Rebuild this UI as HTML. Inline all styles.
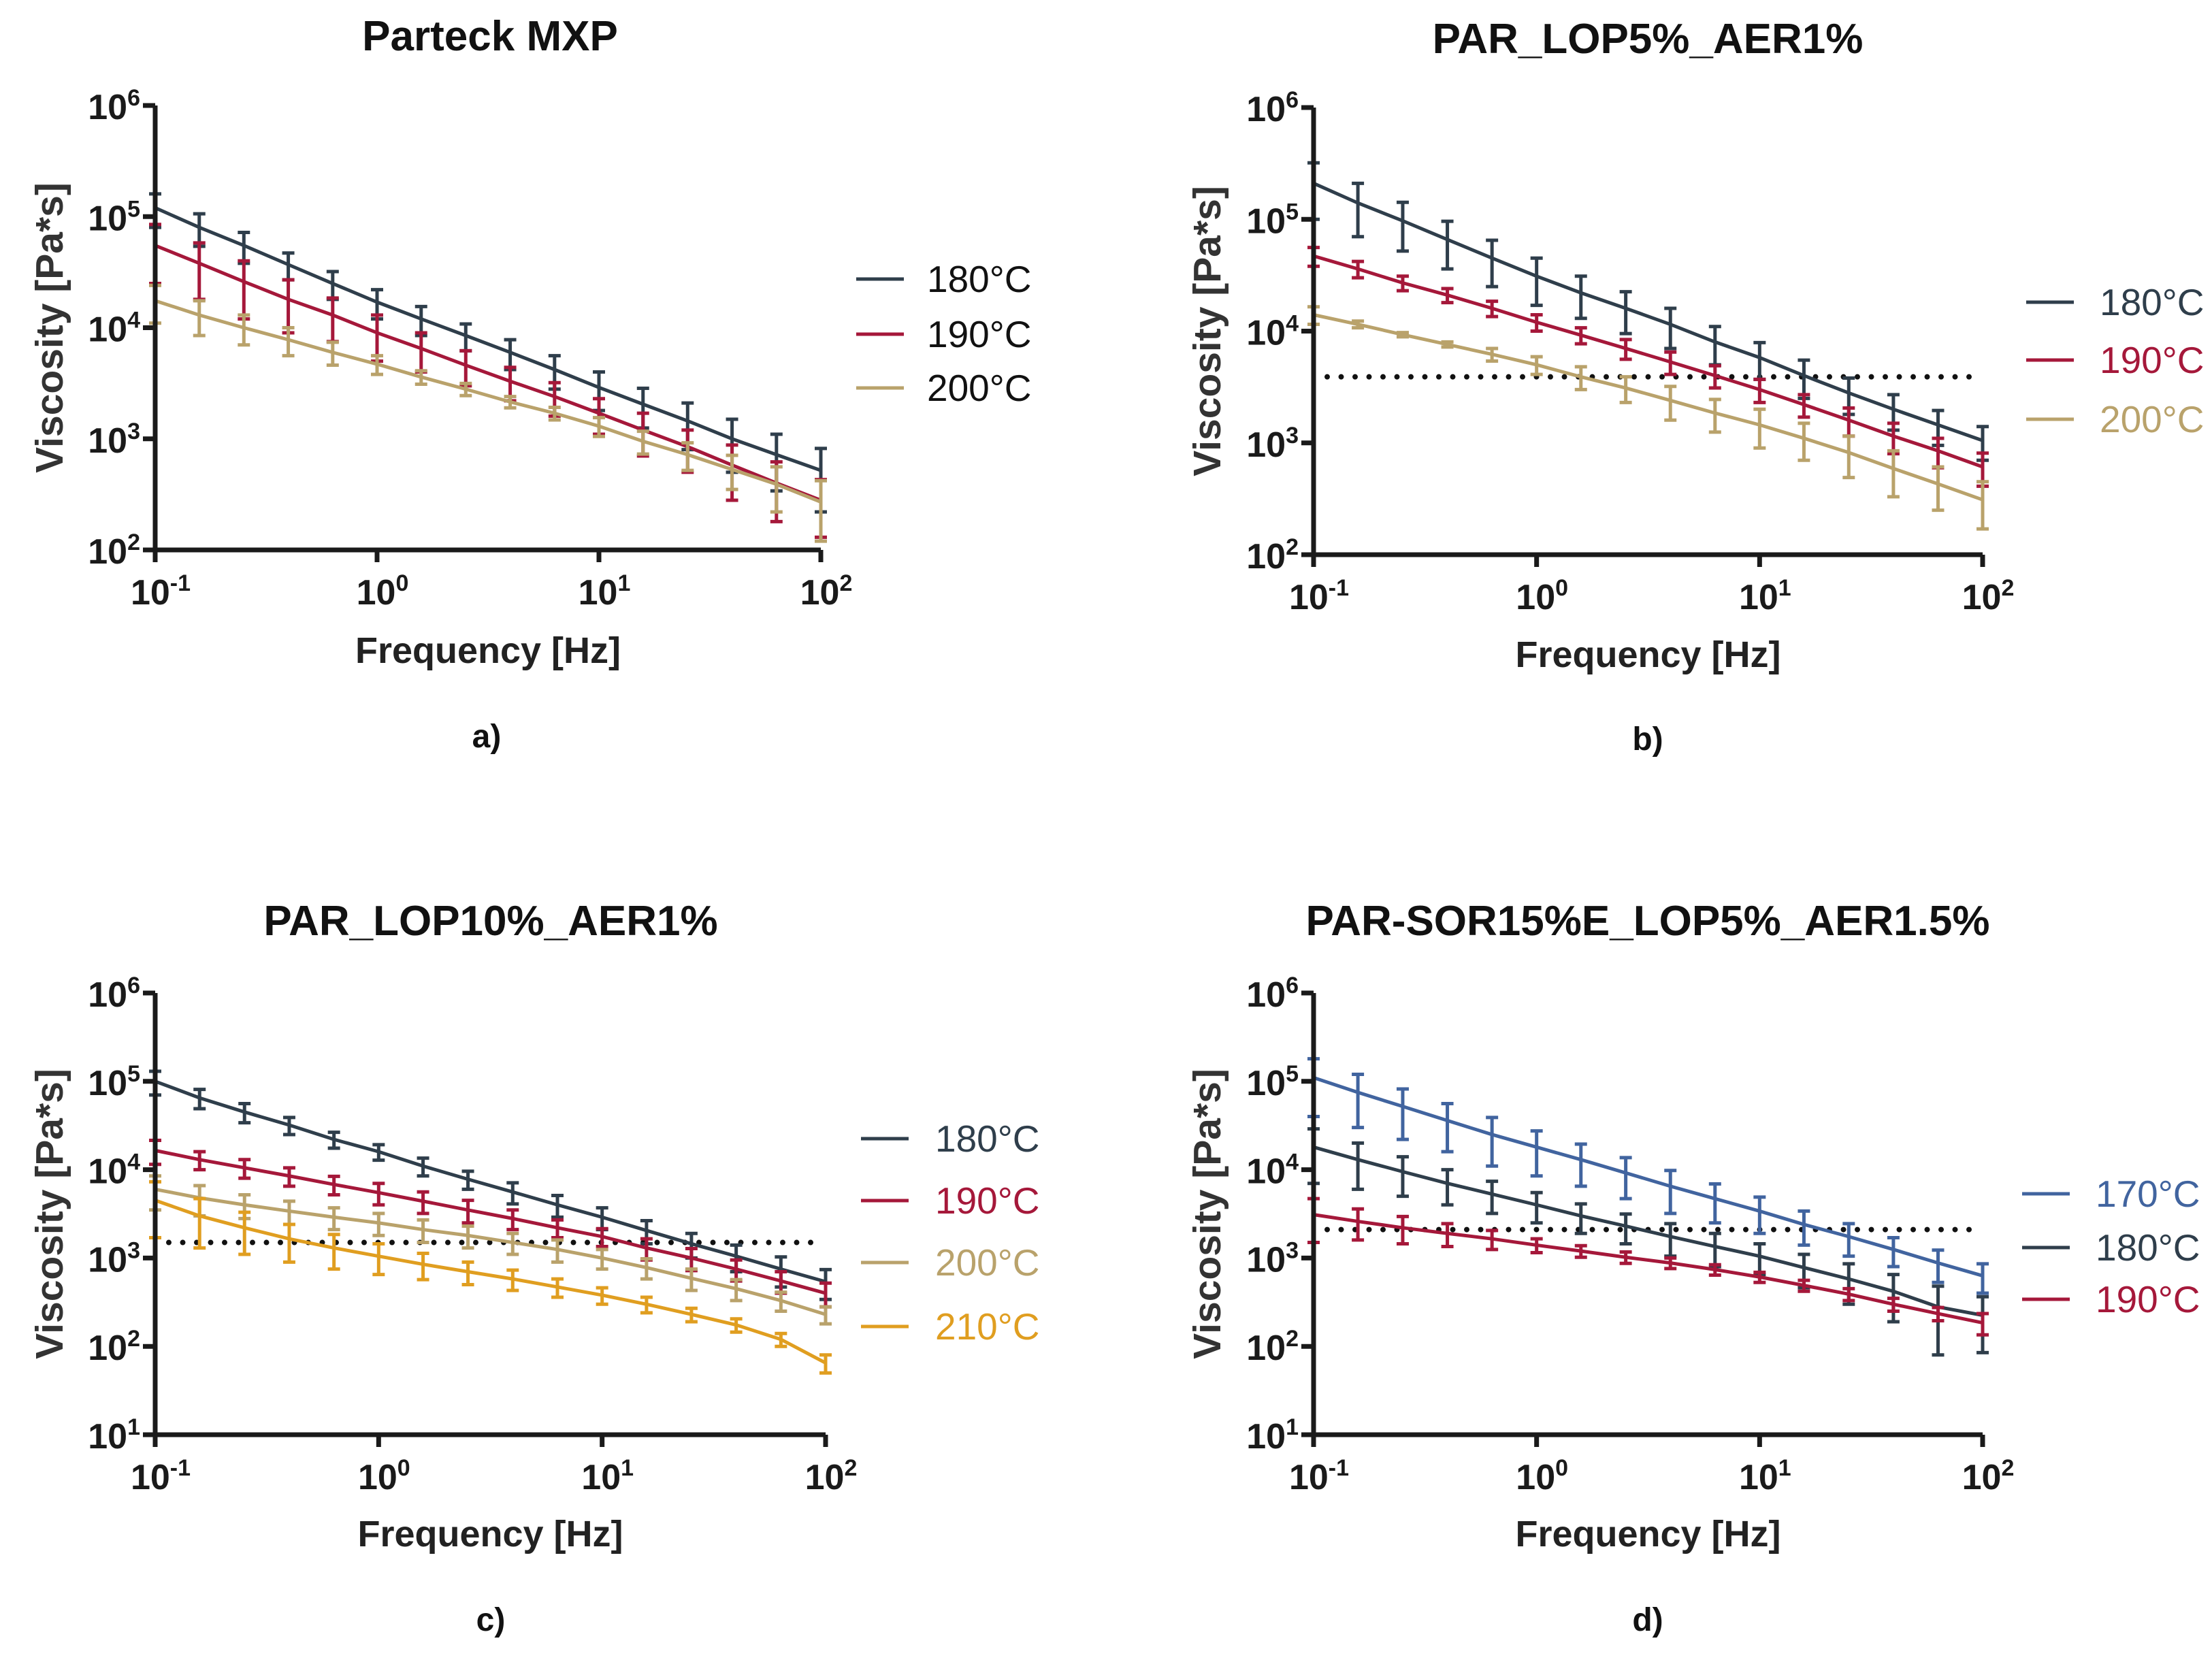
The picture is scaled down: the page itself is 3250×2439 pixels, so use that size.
<!DOCTYPE html>
<html><head><meta charset="utf-8"><style>
body{margin:0;background:#fff}
svg text{font-family:"Liberation Sans",Arial,sans-serif}
</style></head><body>
<svg id="root" width="3250" height="2434" viewBox="0 0 3250 2434" xmlns="http://www.w3.org/2000/svg"></svg>
<script>
const freqs=[0.1,0.158,0.251,0.398,0.631,1,1.58,2.51,3.98,6.31,10,15.8,25.1,39.8,63.1,100];
// Panel a
const a180=[1.2e5,8e4,5.5e4,3.7e4,2.5e4,1.7e4,1.2e4,8.5e3,6e3,4.2e3,2.9e3,2.05e3,1.45e3,1.0e3,720,520];
const a180sd=[4e4,2.6e4,1.7e4,1e4,7e3,5e3,3.5e3,2.3e3,1.8e3,1.4e3,1.1e3,800,650,500,380,300];
const a190=[5.5e4,3.8e4,2.6e4,1.8e4,1.3e4,9e3,6.5e3,4.6e3,3.3e3,2.4e3,1.7e3,1.2e3,850,580,400,280];
const a190sd=[3e4,2e4,1.4e4,9e3,5.5e3,4e3,2.5e3,1.6e3,1.1e3,800,600,500,350,300,220,150];
const a200=[1.75e4,1.3e4,1.0e4,7.8e3,6e3,4.7e3,3.6e3,2.8e3,2.15e3,1.7e3,1.3e3,950,720,530,390,270];
const a200sd=[6.5e3,4.5e3,3e3,2.2e3,1.4e3,900,500,350,250,220,250,220,200,180,170,150];
// Panel b
const b180=[2.1e5,1.4e5,9.7e4,6.6e4,4.5e4,3.1e4,2.2e4,1.6e4,1.15e4,8e3,5.8e3,4e3,2.8e3,2e3,1.45e3,1.05e3];
const b180sd=[1.1e5,7e4,4.5e4,3e4,2e4,1.4e4,9e3,6.5e3,4.5e3,3e3,2.1e3,1.5e3,1e3,700,500,350];
const b190=[4.7e4,3.6e4,2.7e4,2.1e4,1.6e4,1.2e4,9.2e3,7e3,5.3e3,4e3,3e3,2.2e3,1.6e3,1.15e3,850,610];
const b190sd=[9e3,6e3,4e3,3e3,2.5e3,2e3,1.5e3,1.4e3,1.2e3,900,700,500,450,350,250,200];
const b200=[1.4e4,1.15e4,9.3e3,7.6e3,6.2e3,5e3,3.9e3,3.1e3,2.4e3,1.85e3,1.45e3,1.1e3,820,590,430,310];
const b200sd=[2.5e3,800,400,400,800,900,900,800,800,600,550,400,330,260,180,140];
// Panel c
const c180=[1.0e5,6.5e4,4.5e4,3.2e4,2.2e4,1.6e4,1.1e4,7.8e3,5.6e3,4e3,2.9e3,2.05e3,1.45e3,1.05e3,750,540];
const c180sd=[3e4,1.6e4,1.1e4,7e3,4.5e3,3.2e3,2.5e3,1.8e3,1.5e3,1.1e3,800,600,450,350,280,200];
const c190=[1.65e4,1.3e4,1.05e4,8.5e3,6.8e3,5.5e3,4.4e3,3.5e3,2.8e3,2.2e3,1.75e3,1.3e3,1e3,750,550,400];
const c190sd=[5e3,3e3,2.5e3,2e3,1.6e3,1.5e3,1.2e3,1e3,700,500,400,350,280,200,150,120];
const c200=[6e3,4.8e3,4e3,3.4e3,2.9e3,2.5e3,2.1e3,1.8e3,1.5e3,1.25e3,1e3,780,590,450,330,230];
const c200sd=[2.5e3,1.8e3,1.2e3,1e3,800,700,600,500,400,350,250,200,160,120,80,50];
const c210=[4.5e3,3e3,2.2e3,1.65e3,1.3e3,1.05e3,850,700,580,470,380,300,230,175,120,65];
const c210sd=[2.8e3,1.7e3,1.1e3,750,550,400,280,200,150,110,80,60,40,30,20,15];
// Panel d
const d170=[1.1e5,7.5e4,5.2e4,3.6e4,2.5e4,1.8e4,1.3e4,9.2e3,6.5e3,4.7e3,3.4e3,2.4e3,1.75e3,1.25e3,880,630];
const d170sd=[7e4,4.5e4,3e4,2e4,1.4e4,9.5e3,6.5e3,4.5e3,3.3e3,2.2e3,1.5e3,1e3,700,450,350,230];
const d180=[1.8e4,1.3e4,9.5e3,7e3,5.3e3,4e3,3e3,2.3e3,1.75e3,1.35e3,1.05e3,780,580,420,280,225];
const d180sd=[1.1e4,7e3,4.5e3,3e3,2.1e3,1.5e3,1.1e3,850,700,550,400,320,280,230,200,140];
const d190=[3.1e3,2.6e3,2.2e3,1.9e3,1.65e3,1.4e3,1.2e3,1.02e3,880,740,610,490,390,300,235,185];
const d190sd=[1.6e3,1e3,750,550,400,250,180,150,120,100,80,70,60,50,40,50];
const thresholds=[null,3900,1500,2100];

const C={s170:'#41649f',s180:'#2f3e4b',s190:'#a5183a',s200:'#b9a26b',s210:'#e09e20'};
const NS='http://www.w3.org/2000/svg';
const root=document.getElementById('root');
function mk(tag,attrs,parent){const e=document.createElementNS(NS,tag);for(const k in attrs)e.setAttribute(k,attrs[k]);(parent||root).appendChild(e);return e;}

const panels=[
 {id:'a',title:'Parteck MXP',x0:228,x1:1206,yT:155,yB:808,ymin:2,ymax:6,tx:720,ty:74,ytx:72,xty:974,lx:715,ly:1098,
  legX:1258,legTX:1362,legY:[410,491,570],series:[['180°C',a180,a180sd,C.s180],['190°C',a190,a190sd,C.s190],['200°C',a200,a200sd,C.s200]]},
 {id:'b',title:'PAR_LOP5%_AER1%',x0:1930,x1:2913,yT:158,yB:815,ymin:2,ymax:6,tx:2421,ty:78,ytx:1773,xty:980,lx:2421,ly:1102,
  legX:2977,legTX:3085,legY:[444,529,616],series:[['180°C',b180,b180sd,C.s180],['190°C',b190,b190sd,C.s190],['200°C',b200,b200sd,C.s200]]},
 {id:'c',title:'PAR_LOP10%_AER1%',x0:228,x1:1213,yT:1459,yB:2108,ymin:1,ymax:6,tx:721,ty:1374,ytx:72,xty:2272,lx:721,ly:2396,
  legX:1265,legTX:1374,legY:[1673,1764,1855,1949],series:[['180°C',c180,c180sd,C.s180],['190°C',c190,c190sd,C.s190],['200°C',c200,c200sd,C.s200],['210°C',c210,c210sd,C.s210]]},
 {id:'d',title:'PAR-SOR15%E_LOP5%_AER1.5%',x0:1930,x1:2913,yT:1459,yB:2108,ymin:1,ymax:6,tx:2421,ty:1374,ytx:1773,xty:2272,lx:2421,ly:2396,
  legX:2971,legTX:3079,legY:[1754,1833,1909],series:[['170°C',d170,d170sd,C.s170],['180°C',d180,d180sd,C.s180],['190°C',d190,d190sd,C.s190]]}
];

panels.forEach((p,pi)=>{
 const g=mk('g',{});
 
 
 const X=f=>p.x0+(Math.log10(f)+1)/3*(p.x1-p.x0);
 const Y=v=>p.yB-(Math.log10(v)-p.ymin)/(p.ymax-p.ymin)*(p.yB-p.yT);
 const clampY=y=>Math.min(Math.max(y,p.yT-40),p.yB);
 const t=mk('text',{x:p.tx,y:p.ty,'text-anchor':'middle','font-size':62,'font-weight':'bold',fill:'#111'},g);t.textContent=p.title;
 
 const yt=mk('text',{x:0,y:0,transform:`translate(${p.ytx+20},${(p.yT+p.yB)/2}) rotate(-90)`,'text-anchor':'middle','font-size':57,'font-weight':'bold',fill:'#333'},g);yt.textContent='Viscosity [Pa*s]';
 
 const xt=mk('text',{x:(p.x0+p.x1)/2,y:p.xty,'text-anchor':'middle','font-size':54,'font-weight':'bold',fill:'#222'},g);xt.textContent='Frequency [Hz]';
 
 const pl=mk('text',{x:p.lx,y:p.ly,'text-anchor':'middle','font-size':48,'font-weight':'bold',fill:'#111'},g);pl.textContent=p.id+')';
 
 if(thresholds[pi]){const ty=Y(thresholds[pi]);
  const dl=mk('line',{x1:p.x0+20,x2:p.x1-15,y1:ty,y2:ty,stroke:'#111','stroke-width':8,'stroke-linecap':'round','stroke-dasharray':'0 20.5'},g);
  }
 p.series.forEach((s,si)=>{
  const [lab,vals,sd,col]=s;
  const sg=mk('g',{},g);
  
  
  vals.forEach((v,i)=>{const x=X(freqs[i]);const yu=clampY(Y(v+sd[i]));const yl=(v-sd[i]>0)?clampY(Y(v-sd[i])):p.yB;
   const eb=mk('path',{d:`M${x},${yu}V${yl}M${x-9},${yu}H${x+9}M${x-9},${yl}H${x+9}`,stroke:col,'stroke-width':5,fill:'none'},sg);
   });
  const ln=mk('polyline',{points:vals.map((v,i)=>X(freqs[i])+','+Y(v)).join(' '),stroke:col,'stroke-width':5,fill:'none'},sg);
  
  const ly=p.legY[si];
  const lg=mk('g',{},g);
  
  mk('line',{x1:p.legX,x2:p.legX+70,y1:ly,y2:ly,stroke:col,'stroke-width':5},lg);
  const lt=mk('text',{x:p.legTX,y:ly+19,'font-size':55,fill:(p.id=='a')?'#111':col},lg);lt.textContent=lab;
 });
 const ax=mk('path',{d:`M${p.x0},${p.yT}V${p.yB}H${p.x1}`,stroke:'#1a1a1a','stroke-width':7,fill:'none'},g);
 
 for(let e=p.ymin;e<=p.ymax;e++){const y=Y(Math.pow(10,e));
  mk('line',{x1:p.x0-18,x2:p.x0,y1:y,y2:y,stroke:'#1a1a1a','stroke-width':7},g);
  const tl=mk('text',{x:p.x0-22,y:y+20,'text-anchor':'end','font-size':52,'font-weight':'bold',fill:'#1a1a1a'},g);
  
  tl.innerHTML=`10<tspan dy="-20" font-size="34">${e}</tspan>`;}
 for(let e=-1;e<=2;e++){const x=X(Math.pow(10,e));
  mk('line',{x1:x,x2:x,y1:p.yB,y2:p.yB+18,stroke:'#1a1a1a','stroke-width':7},g);
  const tl=mk('text',{x:x+8,y:p.yB+80,'text-anchor':'middle','font-size':52,'font-weight':'bold',fill:'#1a1a1a'},g);
  
  tl.innerHTML=`10<tspan dy="-20" font-size="34">${e}</tspan>`;}
});
</script>
</body></html>
